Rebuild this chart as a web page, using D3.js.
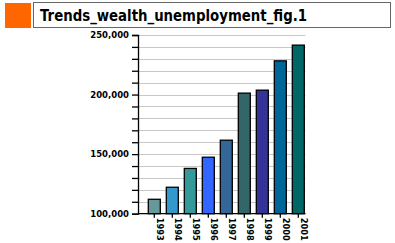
<!DOCTYPE html>
<html>
<head>
<meta charset="utf-8">
<script src="https://cdn.jsdelivr.net/npm/d3@7"></script>
<style>
  body { margin: 0; background: #fff; }
  text { font-family: "DejaVu Sans", sans-serif; }
</style>
</head>
<body>
<div id="chart"></div>
<script>
const years = ["1993", "1994", "1995", "1996", "1997", "1998", "1999", "2000", "2001"];
const wealth = [112100, 122200, 138000, 147400, 161700, 201200, 203700, 228300, 241500];
const barColors = ["#669999", "#3399cc", "#339999", "#3366ff", "#336699", "#336666", "#333399", "#006699", "#006666"];
const yLabels = [100000, 150000, 200000, 250000];
const title = "Trends_wealth_unemployment_fig.1";

const svg = d3.select("#chart")
  .append("svg")
  .attr("width", 395)
  .attr("height", 243);

// header: orange square + title box
svg.append("rect")
  .attr("x", 5).attr("y", 3).attr("width", 26).attr("height", 25)
  .attr("fill", "#ff6600");
svg.append("rect")
  .attr("x", 33.5).attr("y", 2.5).attr("width", 357).attr("height", 25)
  .attr("fill", "#fff").attr("stroke", "#666").attr("stroke-width", 1);
svg.append("text")
  .attr("x", 40).attr("y", 21)
  .attr("font-size", 16).attr("font-weight", "bold")
  .attr("font-family", "Liberation Sans, sans-serif")
  .attr("textLength", 267).attr("lengthAdjust", "spacingAndGlyphs")
  .attr("fill", "#000")
  .text(title);

const left = 138, right = 305.5;

const y = d3.scaleLinear().domain([100000, 250000]).range([213.7, 35]);
const x = d3.scaleBand().domain(years).range([145.3, 307.3])
  .paddingInner(1 / 3).paddingOuter(1 / 6);

// gridlines
svg.append("g")
  .selectAll("line")
  .data(d3.range(110000, 250001, 10000))
  .join("line")
  .attr("x1", left).attr("x2", right)
  .attr("y1", d => Math.round(y(d)) + 0.5)
  .attr("y2", d => Math.round(y(d)) + 0.5)
  .attr("stroke", "#c8c8c8").attr("stroke-width", 1);

// bars
svg.append("g")
  .selectAll("rect")
  .data(wealth)
  .join("rect")
  .attr("x", (d, i) => x(years[i]))
  .attr("width", x.bandwidth())
  .attr("y", d => y(d))
  .attr("height", d => y(100000) - y(d))
  .attr("fill", (d, i) => barColors[i])
  .attr("stroke", "#000").attr("stroke-width", 1.3);

// y axis
const yAxis = svg.append("g")
  .attr("transform", `translate(${left},0)`)
  .call(d3.axisLeft(y).tickValues(d3.range(100000, 250001, 10000))
    .tickSize(6).tickFormat(d => yLabels.includes(d) ? d3.format(",")(d) : ""));
yAxis.select(".domain").attr("stroke", "#000").attr("stroke-width", 1.3);
yAxis.selectAll(".tick line").attr("stroke", "#000").attr("stroke-width", 1.3);
yAxis.selectAll("text")
  .attr("font-size", 8.5).attr("font-weight", "bold")
  .attr("font-family", "DejaVu Sans, sans-serif").attr("fill", "#000");

// x axis
const xAxis = svg.append("g")
  .attr("transform", `translate(0,${y(100000)})`)
  .call(d3.axisBottom(x).tickSize(4).tickSizeOuter(0));
xAxis.select(".domain").attr("d", `M${left},0H${right}`)
  .attr("stroke", "#000").attr("stroke-width", 1.3);
xAxis.selectAll(".tick line").attr("stroke", "#000").attr("stroke-width", 1.3);
xAxis.selectAll("text")
  .attr("font-size", 8).attr("font-weight", "bold")
  .attr("font-family", "DejaVu Sans, sans-serif").attr("fill", "#000")
  .attr("transform", "rotate(90)")
  .attr("text-anchor", "start")
  .attr("x", 4).attr("y", 0).attr("dy", "-0.32em")
  .attr("textLength", 23).attr("lengthAdjust", "spacingAndGlyphs");
</script>
</body>
</html>
